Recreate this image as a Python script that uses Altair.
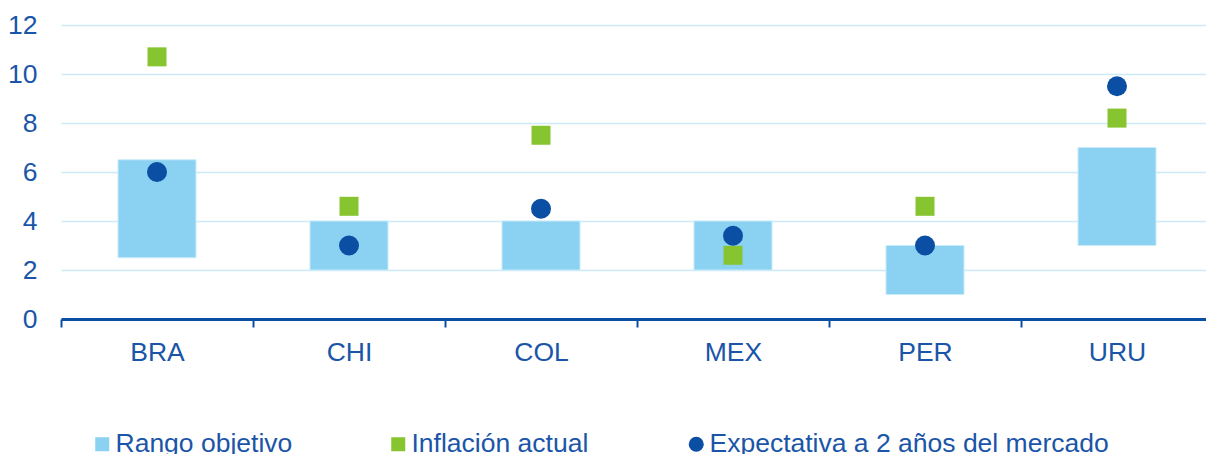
import altair as alt
import pandas as pd

# Inflation targets, current inflation and 2-year market expectations (%)
paises = ["BRA", "CHI", "COL", "MEX", "PER", "URU"]
rango_min = [2.5, 2.0, 2.0, 2.0, 1.0, 3.0]
rango_max = [6.5, 4.0, 4.0, 4.0, 3.0, 7.0]
inflacion = [10.7, 4.6, 7.5, 2.6, 4.6, 8.2]
expectativa = [6.0, 3.0, 4.5, 3.4, 3.0, 9.5]
y_ticks = [0, 2, 4, 6, 8, 10, 12]

serie_rango = "Rango objetivo"
serie_infl = "Inflación actual"
serie_exp = "Expectativa a 2 años del mercado"

df = pd.DataFrame({
    "pais": paises,
    "min": rango_min,
    "max": rango_max,
    "inflacion": inflacion,
    "expectativa": expectativa,
    "s_rango": serie_rango,
    "s_infl": serie_infl,
    "s_exp": serie_exp,
})

FONT = "Liberation Sans"
FS = 26.5
TXT = "#1A55A8"
C_RANGO = "#8AD1F2"
C_INFL = "#86C530"
C_EXP = "#0A4FA3"

BAND = 192
x_enc = alt.X(
    "pais:N",
    sort=paises,
    title=None,
    scale=alt.Scale(range=[0, BAND * len(paises)], paddingInner=0, paddingOuter=0),
    axis=alt.Axis(
        labelAngle=0,
        labelFont=FONT,
        labelFontSize=FS,
        labelColor=TXT,
        labelPadding=12,
        labelOffset=BAND / 2,
        tickOffset=-BAND / 2,
        tickSize=8,
        tickWidth=2,
        tickColor=C_EXP,
        domainColor=C_EXP,
        domainWidth=3,
        grid=False,
    ),
)

y_scale = alt.Scale(domain=[0, 12], nice=False)
y_axis = alt.Axis(
    values=y_ticks,
    labelFont=FONT,
    labelFontSize=FS,
    labelColor=TXT,
    labelPadding=24,
    tickSize=0,
    domain=False,
    grid=True,
    gridColor="#CDEBF7",
    gridWidth=1.5,
)


def legend_at(x, y, symbol, size):
    return alt.Legend(
        orient="none",
        legendX=x,
        legendY=y,
        title=None,
        padding=0,
        symbolType=symbol,
        symbolSize=size,
        symbolStrokeWidth=0,
        labelFont=FONT,
        labelFontSize=FS,
        labelColor=TXT,
        labelOffset=0,
        labelLimit=600,
    )


bars = alt.Chart(df).mark_bar(size=78, stroke="#C9ECFA", strokeWidth=1).encode(
    x=x_enc,
    y=alt.Y("min:Q", scale=y_scale, axis=y_axis, title=None),
    y2="max:Q",
    color=alt.Color(
        "s_rango:N",
        scale=alt.Scale(domain=[serie_rango], range=[C_RANGO]),
        legend=legend_at(28, 406, "square", 196),
    ),
)

cuadros = alt.Chart(df).mark_point(shape="square", filled=True, opacity=1, size=361).encode(
    x=alt.X("pais:N", sort=paises),
    y=alt.Y("inflacion:Q", scale=y_scale),
    color=alt.Color(
        "s_infl:N",
        scale=alt.Scale(domain=[serie_infl], range=[C_INFL]),
        legend=legend_at(324, 406, "square", 196),
    ),
)

circulos = alt.Chart(df).mark_point(shape="circle", filled=True, opacity=1, size=400).encode(
    x=alt.X("pais:N", sort=paises),
    y=alt.Y("expectativa:Q", scale=y_scale),
    color=alt.Color(
        "s_exp:N",
        scale=alt.Scale(domain=[serie_exp], range=[C_EXP]),
        legend=legend_at(622, 406, "circle", 225),
    ),
)

chart = (
    alt.layer(bars, cuadros, circulos)
    .resolve_scale(color="independent")
    .properties(
        width=1145,
        height=294,
        autosize=alt.AutoSizeParams(type="none"),
        padding={"left": 61, "top": 25, "right": 0, "bottom": 135},
        background="white",
    )
    .configure_view(stroke=None)
)

chart.save("out.html", embed_options={"renderer": "svg", "actions": False})
